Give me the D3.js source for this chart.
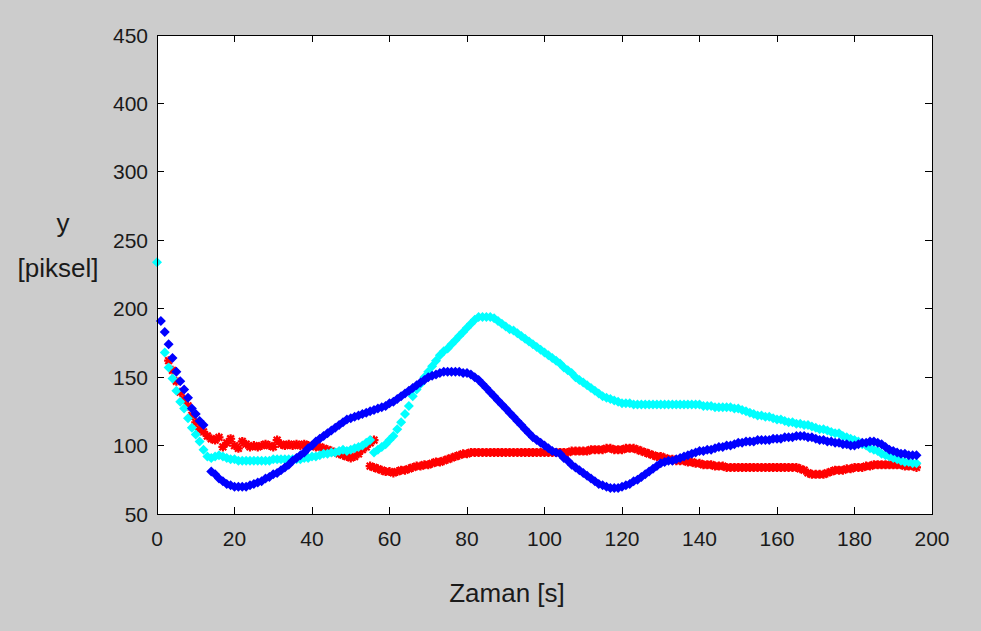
<!DOCTYPE html>
<html>
<head>
<meta charset="utf-8">
<script src="https://cdn.jsdelivr.net/npm/d3@7"></script>
<style>
  html, body { margin: 0; padding: 0; background: #cccccc; }
  svg { display: block; font-family: "Liberation Sans", Arial, sans-serif; }
</style>
</head>
<body>
<svg id="chart" width="981" height="631"></svg>
<script>
// x ticks and y tick labels (the y labels are as printed on the figure)
const xTicks = [0, 20, 40, 60, 80, 100, 120, 140, 160, 180, 200];
const yTicks = [50, 100, 150, 200, 250, 300, 350, 400];
const yTickLabels = ["50", "100", "150", "200", "250", "300", "400", "450"];

// one sample per second; each segment starts at t0
const blueSegs = [
  { t0: 1, v: [191, 183, 174, 164, 154, 147, 141, 135, 127, 123, 118, 115] },
  { t0: 14, v: [
    81, 79, 76, 74, 72, 71, 70, 70, 70, 70,
    71, 72, 73, 74, 76, 77, 79, 80, 82, 84,
    86, 89, 91, 93, 95, 98, 100, 103, 105, 107,
    109, 111, 113, 115, 117, 119, 120, 121, 122, 123,
    124, 125, 126, 127, 128, 129, 131, 132, 134, 136,
    138, 140, 142, 144, 146, 148, 150, 151, 152, 153,
    154, 154, 154, 154, 154, 153, 153, 152, 150, 148,
    145, 142, 139, 136, 133, 130, 127, 124, 121, 118,
    115, 112, 109, 106, 104, 102, 100, 98, 96, 95,
    94, 91, 89, 86, 84, 82, 80, 78, 76, 74,
    72, 71, 70, 69, 69, 69, 70, 71, 72, 74,
    75, 77, 79, 81, 83, 85, 87, 88, 89, 89,
    90, 91, 92, 93, 94, 95, 96, 96, 97, 97,
    98, 99, 99, 100, 100, 101, 102, 102, 103, 103,
    103, 104, 104, 104, 104, 105, 105, 105, 106, 106,
    106, 107, 107, 107, 106, 106, 105, 104, 104, 103,
    103, 102, 102, 101, 101, 100, 100, 101, 102, 102,
    103, 103, 102, 101, 99, 97, 96, 95, 94, 94,
    93, 93, 93] }
];

const redSegs = [
  { t0: 3, v: [
    162, 155, 147, 139, 134, 129, 122, 117, 112, 110,
    107, 105, 104, 106, 99, 102, 105, 100, 98, 103,
    101, 99, 100, 99, 100, 101, 100, 99, 104, 101,
    100, 101, 100, 101, 100, 101, 100, 100, 99, 99,
    98, 97, 96, 95, 94, 93, 92, 91, 92, 94,
    97, 99, 102, 104] },
  { t0: 55, v: [
    85, 84, 83, 82, 81, 81, 80, 81, 82, 82,
    83, 84, 85, 85, 86, 86, 87, 88, 88, 89,
    90, 91, 92, 93, 94, 94, 95, 95, 95, 95,
    95, 95, 95, 95, 95, 95, 95, 95, 95, 95,
    95, 95, 95, 95, 95, 95, 95, 95, 95, 95,
    95, 95, 96, 96, 96, 96, 96, 97, 97, 97,
    97, 98, 98, 97, 97, 97, 98, 98, 98, 97,
    96, 95, 94, 93, 92, 92, 91, 90, 90, 89,
    89, 89, 88, 88, 87, 87, 86, 86, 86, 85,
    85, 85, 84, 84, 84, 84, 84, 84, 84, 84,
    84, 84, 84, 84, 84, 84, 84, 84, 84, 84,
    84, 83, 82, 80, 79, 79, 79, 79, 80, 81,
    82, 82, 82, 83, 83, 84, 84, 84, 85, 85,
    86, 86, 86, 86, 86, 86, 86, 86, 85, 85,
    85, 84] }
];

const cyanSegs = [
  { t0: 0, v: [234] },
  { t0: 2, v: [
    168, 157, 149, 140, 132, 127, 120, 113, 108, 103,
    97, 92, 91, 92, 93, 92, 91, 90, 90, 89,
    89, 89, 89, 89, 89, 89, 89, 89, 90, 90,
    90, 90, 90, 90, 90, 90, 91, 91, 92, 92,
    93, 94, 94, 95, 95, 96, 97, 96, 97, 98,
    99, 100, 102, 104] },
  { t0: 56, v: [
    95, 97, 99, 101, 104, 107, 112, 117, 123, 129,
    136, 141, 145, 150, 154, 158, 162, 166, 169, 171,
    174, 177, 180, 183, 186, 189, 192, 194, 194, 194,
    194, 193, 191, 189, 187, 185, 184, 182, 180, 178,
    176, 174, 172, 170, 168, 166, 164, 162, 160, 157,
    155, 153, 150, 148, 146, 144, 142, 140, 138, 136,
    135, 134, 133, 132, 131, 131, 131, 130, 130, 130,
    130, 130, 130, 130, 130, 130, 130, 130, 130, 130,
    130, 130, 130, 130, 130, 129, 129, 129, 128, 128,
    128, 128, 128, 127, 127, 126, 125, 124, 123, 122,
    122, 121, 121, 120, 119, 119, 118, 117, 117, 116,
    116, 115, 115, 114, 113, 112, 112, 111, 110, 109,
    109, 107, 106, 105, 104, 103, 101, 100, 98, 97,
    96, 94, 93, 92, 91, 90, 89, 88, 88, 87,
    87] }
];

const margin = { left: 157, top: 35, right: 49, bottom: 117 };
const W = 981, H = 631;
const plotW = W - margin.left - margin.right;
const plotH = H - margin.top - margin.bottom;

const svg = d3.select("#chart");
svg.append("rect").attr("width", W).attr("height", H).attr("fill", "#cccccc");

const x = d3.scaleLinear().domain([0, 200]).range([0, plotW]);
const y = d3.scaleLinear().domain([50, 400]).range([plotH, 0]);

const g = svg.append("g").attr("transform", `translate(${margin.left},${margin.top})`);
g.append("rect").attr("width", plotW).attr("height", plotH).attr("fill", "#fff");

const toPoints = segs => segs.flatMap(s => s.v.map((v, i) => ({ t: s.t0 + i, v })));

// marker shapes
const diamond = {
  draw(ctx, size) {
    const r = Math.sqrt(size / 2);
    ctx.moveTo(0, -r); ctx.lineTo(r, 0); ctx.lineTo(0, r); ctx.lineTo(-r, 0); ctx.closePath();
  }
};
const star = {
  draw(ctx, size) {
    const r = Math.sqrt(size) / 2;
    const d = r * 0.75;
    ctx.moveTo(-r, 0); ctx.lineTo(r, 0);
    ctx.moveTo(0, -r); ctx.lineTo(0, r);
    ctx.moveTo(-d, -d); ctx.lineTo(d, d);
    ctx.moveTo(-d, d); ctx.lineTo(d, -d);
  }
};

const plot = g.append("g").attr("class", "marks");

plot.selectAll(".red").data(toPoints(redSegs)).join("path")
  .attr("class", "red")
  .attr("transform", d => `translate(${x(d.t)},${y(d.v)})`)
  .attr("d", d3.symbol(star, 81))
  .attr("fill", "none")
  .attr("stroke", "#ff0000")
  .attr("stroke-width", 2.2);

plot.selectAll(".cyan").data(toPoints(cyanSegs)).join("path")
  .attr("class", "cyan")
  .attr("transform", d => `translate(${x(d.t)},${y(d.v)})`)
  .attr("d", d3.symbol(diamond, 50))
  .attr("fill", "#00ffff");

plot.selectAll(".blue").data(toPoints(blueSegs)).join("path")
  .attr("class", "blue")
  .attr("transform", d => `translate(${x(d.t)},${y(d.v)})`)
  .attr("d", d3.symbol(diamond, 50))
  .attr("fill", "#0000ff");

// box and inward ticks
const tickLen = 7;
const axes = g.append("g").attr("stroke", "#000").attr("stroke-width", 1).attr("shape-rendering", "crispEdges");
axes.append("rect").attr("width", plotW).attr("height", plotH).attr("fill", "none");
xTicks.forEach(t => {
  axes.append("line").attr("x1", x(t)).attr("x2", x(t)).attr("y1", plotH).attr("y2", plotH - tickLen);
  axes.append("line").attr("x1", x(t)).attr("x2", x(t)).attr("y1", 0).attr("y2", tickLen);
});
yTicks.forEach(t => {
  axes.append("line").attr("x1", 0).attr("x2", tickLen).attr("y1", y(t)).attr("y2", y(t));
  axes.append("line").attr("x1", plotW).attr("x2", plotW - tickLen).attr("y1", y(t)).attr("y2", y(t));
});

// tick labels
const textCol = "#1a1a1a";
g.selectAll(".xlab").data(xTicks).join("text")
  .attr("class", "xlab")
  .attr("x", d => x(d)).attr("y", plotH + 32)
  .attr("text-anchor", "middle")
  .attr("fill", textCol).style("font-size", "21px")
  .text(d => d);

g.selectAll(".ylab").data(yTicks).join("text")
  .attr("class", "ylab")
  .attr("x", -9).attr("y", d => y(d) + 7.5)
  .attr("text-anchor", "end")
  .attr("fill", textCol).style("font-size", "21px")
  .text((d, i) => yTickLabels[i]);

// axis titles
svg.append("text").attr("x", 507).attr("y", 602).attr("text-anchor", "middle")
  .attr("fill", textCol).style("font-size", "26px").text("Zaman [s]");
svg.append("text").attr("x", 63).attr("y", 232).attr("text-anchor", "middle")
  .attr("fill", textCol).style("font-size", "26px").text("y");
svg.append("text").attr("x", 58).attr("y", 277).attr("text-anchor", "middle")
  .attr("fill", textCol).style("font-size", "26px").text("[piksel]");
</script>
</body>
</html>
